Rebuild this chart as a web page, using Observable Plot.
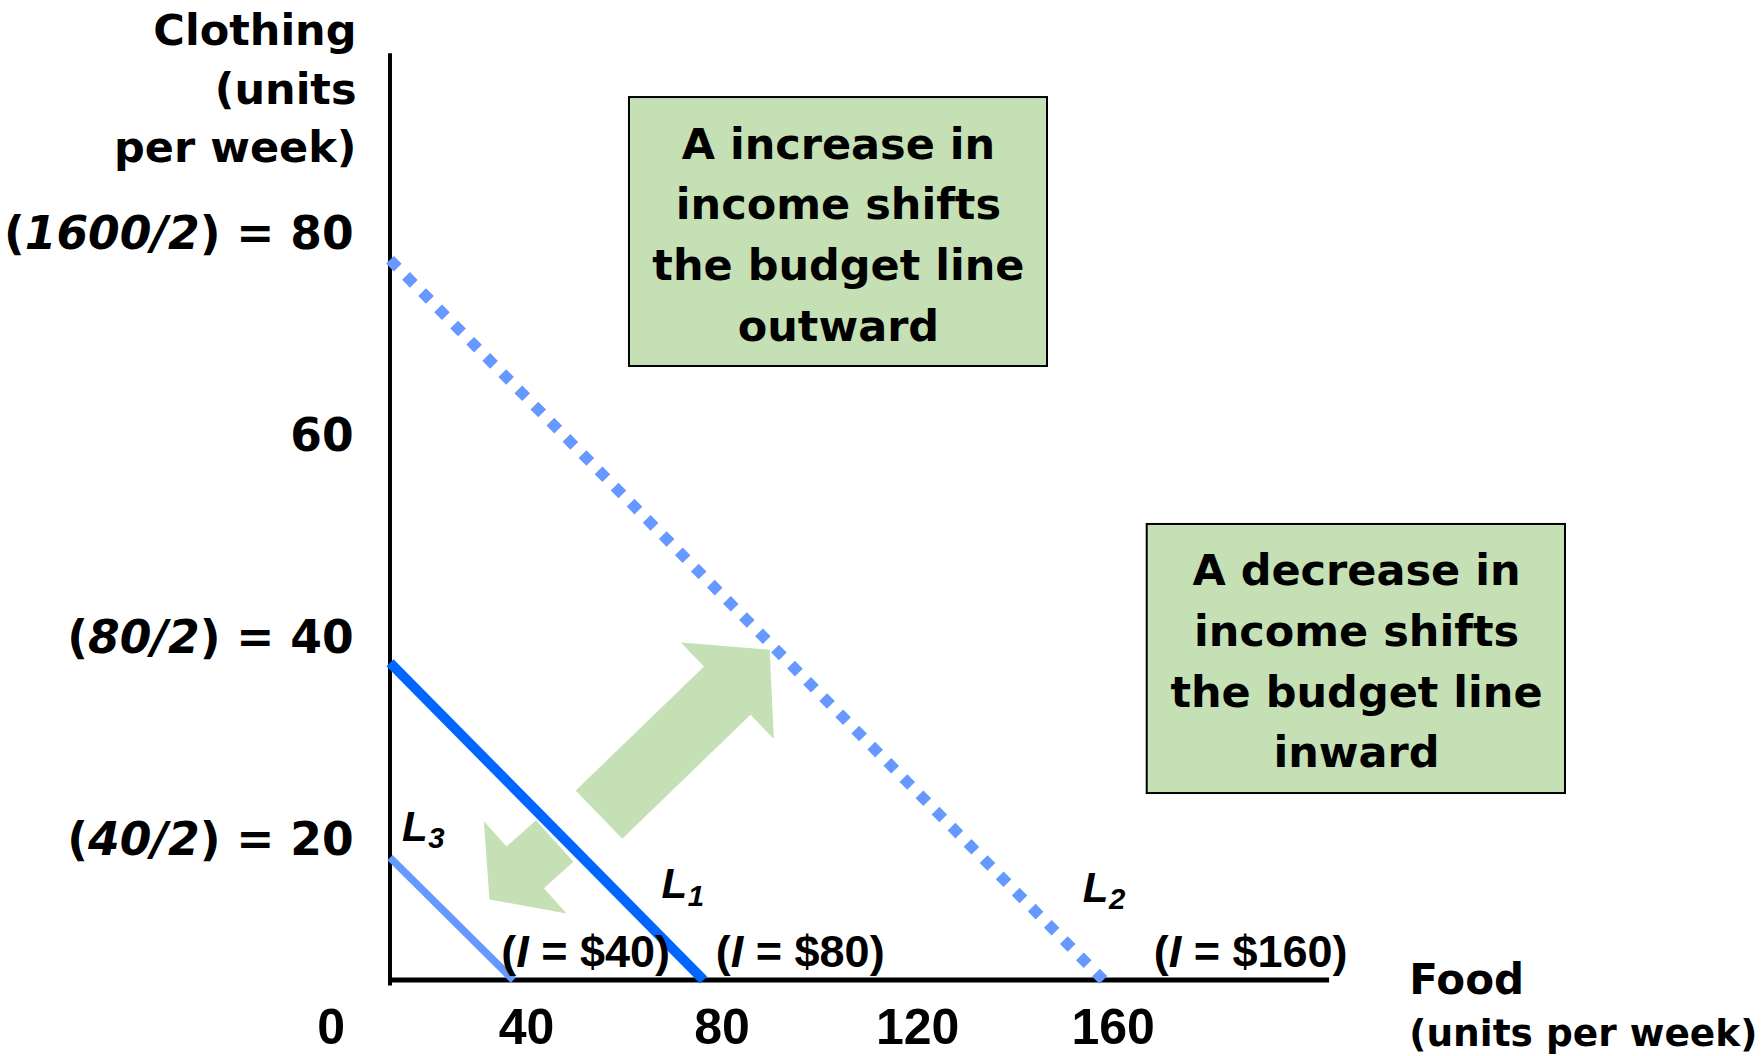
<!DOCTYPE html>
<html>
<head>
<meta charset="utf-8">
<style>html,body{margin:0;padding:0;background:#fff;}#chart svg{display:block;}</style>
<script src="https://cdn.jsdelivr.net/npm/d3@7"></script>
<script src="https://cdn.jsdelivr.net/npm/@observablehq/plot@0.6"></script>
</head>
<body>
<div id="chart"></div>
<script>
// ---------- data ----------
const foodTicks = [0, 40, 80, 120, 160];
const clothingTicks = [80, 60, 40, 20];
const clothingTickLabels = ["(*1600/2*) = 80", "60", "(*80/2*) = 40", "(*40/2*) = 20"];

const lineIds = ["L1", "L2", "L3"];
const lineLabels = ["*L_1_*", "*L_2_*", "*L_3_*"];
const incomes = [80, 160, 40];
const incomeLabels = ["(*I* = $80)", "(*I* = $160)", "(*I* = $40)"];
// intercepts as drawn in the figure (food, clothing units)
const clothingIntercepts = [37.6, 77.5, 18.3];
const foodIntercepts = [76.2, 158.0, 37.3];

// where the two axes cross, and how far they extend (data units)
const axisFood = 12.05;
const axisClothing = 6.19;
const axisClothingTop = 97.9;
const axisClothingBottom = 5.6;
const axisFoodRight = 204.3;

// annotation anchors (data units)
const lineLabelFood = [67.6, 153.8, 14.5];
const lineLabelClothing = [14.26, 13.96, 20.0];
const incomeLabelFood = [78.7, 168.3, 34.8];
const incomeLabelClothing = [7.43, 7.43, 7.43];

const boxTexts = [
  ["A increase in", "income shifts", "the budget line", "outward"],
  ["A decrease in", "income shifts", "the budget line", "inward"]
];
const boxFoodLeft = [61.05, 166.98];
const boxFoodRight = [146.58, 252.56];
const boxClothingTop = [93.56, 51.29];
const boxClothingBottom = [66.93, 24.65];
const boxTextFood = [103.8, 209.8];
const boxTextClothing = [69.5, 27.26];

const arrowNames = ["increase", "decrease"];
const arrowTailFood = [54.81, 45.75];
const arrowTailClothing = [22.57, 19.95];
const arrowTipFood = [89.74, 32.41];
const arrowTipClothing = [38.89, 14.16];

const yTitle = ["Clothing", "(units", "per week)"];
const xTitle = "Food";
const xSubtitle = "(units per week)";

// ---------- scales ----------
const X_DOMAIN = [0, 160], X_RANGE = [330.6, 1112.6];
const Y_DOMAIN = [0, 80], Y_RANGE = [1042, 234];
const xs = d3.scaleLinear().domain(X_DOMAIN).range(X_RANGE);
const ys = d3.scaleLinear().domain(Y_DOMAIN).range(Y_RANGE);

// arrow shape sizes in pixels
const arrowShaft = [67, 56], arrowHeadW = [134, 124], arrowHeadL = [59, 48];

// ---------- derived tables ----------
const budget = lineIds.map((id, i) => ({
  id, income: incomes[i], clothing: clothingIntercepts[i], food: foodIntercepts[i]
}));
const lineLabelRows = lineIds.map((id, i) => ({food: lineLabelFood[i], clothing: lineLabelClothing[i], text: lineLabels[i]}));
const incomeLabelRows = lineIds.map((id, i) => ({food: incomeLabelFood[i], clothing: incomeLabelClothing[i], text: incomeLabels[i]}));
const boxRows = boxTexts.map((t, i) => ({
  x1: boxFoodLeft[i], x2: boxFoodRight[i], y1: boxClothingBottom[i], y2: boxClothingTop[i],
  tx: boxTextFood[i], ty: boxTextClothing[i], text: t.join("\n")
}));
const yTickRows = clothingTicks.map((v, i) => ({food: 4.6, clothing: v, text: clothingTickLabels[i]}));
const xTickRows = foodTicks.map(v => ({food: v, clothing: 1.39, text: String(v)}));

function arrowPolygon(i) {
  const tx = xs(arrowTailFood[i]), ty = ys(arrowTailClothing[i]);
  const hx = xs(arrowTipFood[i]), hy = ys(arrowTipClothing[i]);
  const L = Math.hypot(hx - tx, hy - ty);
  const ux = (hx - tx) / L, uy = (hy - ty) / L, nx = -uy, ny = ux;
  const bx = hx - ux * arrowHeadL[i], by = hy - uy * arrowHeadL[i];
  const s = arrowShaft[i] / 2, h = arrowHeadW[i] / 2;
  const pts = [
    [tx + nx * s, ty + ny * s], [bx + nx * s, by + ny * s], [bx + nx * h, by + ny * h],
    [hx, hy],
    [bx - nx * h, by - ny * h], [bx - nx * s, by - ny * s], [tx - nx * s, ty - ny * s]
  ];
  return pts.map(([px, py]) => ({food: xs.invert(px), clothing: ys.invert(py), arrow: arrowNames[i]}));
}
const arrowRows = arrowNames.flatMap((n, i) => arrowPolygon(i));

const F1 = "DejaVu Sans";
const F2 = "Liberation Sans";
const GREEN = "#C5E0B4";

const chart = Plot.plot({
  width: 1764,
  height: 1056,
  margin: 0,
  style: {background: "#fff"},
  x: {domain: X_DOMAIN, range: X_RANGE, axis: null},
  y: {domain: Y_DOMAIN, range: Y_RANGE, axis: null},
  marks: [
    // boxes
    Plot.rect(boxRows, {x1: "x1", x2: "x2", y1: "y1", y2: "y2", fill: GREEN, stroke: "#000", strokeWidth: 2}),
    Plot.text(boxRows, {x: "tx", y: "ty", text: "text", textAnchor: "middle", lineAnchor: "bottom", lineHeight: 1.41,
      fontFamily: F1, fontWeight: "bold", fontSize: 43, fill: "#000"}),
    // arrows
    Plot.line(arrowRows, {x: "food", y: "clothing", z: "arrow", fill: GREEN, stroke: "none", curve: "linear-closed"}),
    // axes lines
    Plot.ruleX([{food: axisFood, y1: axisClothingBottom, y2: axisClothingTop}], {x: "food", y1: "y1", y2: "y2", stroke: "#000", strokeWidth: 4}),
    Plot.ruleY([{clothing: axisClothing, x1: axisFood, x2: axisFoodRight}], {y: "clothing", x1: "x1", x2: "x2", stroke: "#000", strokeWidth: 5}),
    // budget lines
    Plot.link(budget.filter(d => d.id === "L2"), {x1: () => axisFood, y1: "clothing", x2: "food", y2: () => axisClothing,
      stroke: "#6699FF", strokeWidth: 11, strokeDasharray: "11,11.8", strokeLinecap: "butt"}),
    Plot.link(budget.filter(d => d.id === "L1"), {x1: () => axisFood, y1: "clothing", x2: "food", y2: () => axisClothing,
      stroke: "#0066FF", strokeWidth: 10, strokeLinecap: "butt"}),
    Plot.link(budget.filter(d => d.id === "L3"), {x1: () => axisFood, y1: "clothing", x2: "food", y2: () => axisClothing,
      stroke: "#6699FF", strokeWidth: 7.5, strokeLinecap: "butt"}),
    // labels on lines
    Plot.text(lineLabelRows, {x: "food", y: "clothing", text: "text", textAnchor: "start", lineAnchor: "bottom",
      fontFamily: F2, fontWeight: "bold", fontSize: 42, fill: "#000"}),
    Plot.text(incomeLabelRows, {x: "food", y: "clothing", text: "text", textAnchor: "start", lineAnchor: "bottom",
      fontFamily: F2, fontWeight: "bold", fontSize: 45, fill: "#000"}),
    // tick labels
    Plot.text(yTickRows, {x: "food", y: "clothing", text: "text", textAnchor: "end", lineAnchor: "middle",
      fontFamily: F1, fontWeight: "bold", fontSize: 45.5, fill: "#000"}),
    Plot.text(xTickRows, {x: "food", y: "clothing", text: "text", textAnchor: "middle", lineAnchor: "middle",
      fontFamily: F2, fontWeight: "bold", fontSize: 50, fill: "#000"}),
    // axis titles
    Plot.text([{food: 5.2, clothing: 87.13, text: yTitle.join("\n")}], {x: "food", y: "clothing", text: "text",
      textAnchor: "end", lineAnchor: "bottom", lineHeight: 1.372, fontFamily: F1, fontWeight: "bold", fontSize: 43, fill: "#000"}),
    Plot.text([{food: 220.6, clothing: 4.85, text: xTitle}], {x: "food", y: "clothing", text: "text",
      textAnchor: "start", lineAnchor: "bottom", fontFamily: F1, fontWeight: "bold", fontSize: 42, fill: "#000"}),
    Plot.text([{food: 220.6, clothing: -0.3, text: xSubtitle}], {x: "food", y: "clothing", text: "text",
      textAnchor: "start", lineAnchor: "bottom", fontFamily: F1, fontWeight: "bold", fontSize: 37.5, fill: "#000"})
  ]
});

// mixed styling: *...* italic, _..._ subscript
function applyMarkup(svg) {
  const NS = "http://www.w3.org/2000/svg";
  svg.querySelectorAll("text").forEach(t => {
    if (t.querySelector("tspan")) return;
    const s = t.textContent;
    if (!/[*_]/.test(s)) return;
    while (t.firstChild) t.removeChild(t.firstChild);
    let italic = false, sub = false, buf = "";
    const flush = () => {
      if (!buf) return;
      const ts = document.createElementNS(NS, "tspan");
      if (italic) ts.setAttribute("font-style", "italic");
      if (sub) {
        ts.setAttribute("font-size", "0.7em");
        ts.setAttribute("dy", "0.27em");
        ts.setAttribute("dx", "0.02em");
      }
      ts.textContent = buf;
      t.appendChild(ts);
      buf = "";
    };
    for (const ch of s) {
      if (ch === "*") { flush(); italic = !italic; }
      else if (ch === "_") { flush(); sub = !sub; }
      else buf += ch;
    }
    flush();
  });
}
applyMarkup(chart);
document.getElementById("chart").appendChild(chart);
</script>
</body>
</html>
